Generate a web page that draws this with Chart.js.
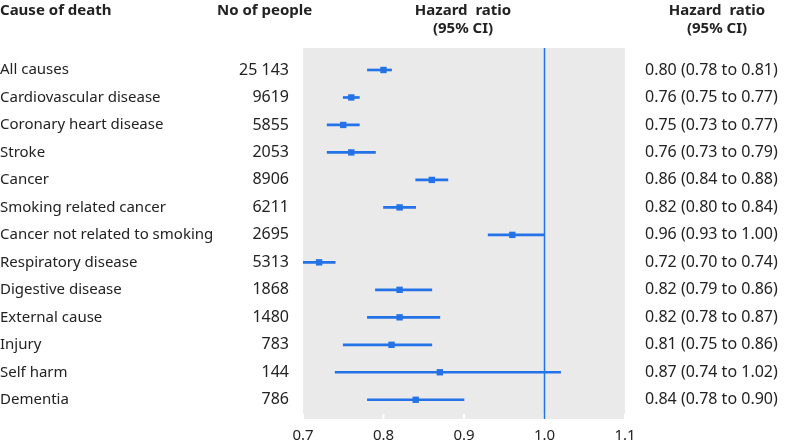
<!DOCTYPE html>
<html>
<head>
<meta charset="utf-8">
<script src="https://cdn.jsdelivr.net/npm/chart.js@4"></script>
<style>
    html, body { margin: 0; padding: 0; background: #fff; overflow: hidden; }
    #wrap { width: 790px; height: 445px; position: relative; }
</style>
</head>
<body>
<div id="wrap"><canvas id="forest"></canvas></div>
<script>
const causes = ['All causes', 'Cardiovascular disease', 'Coronary heart disease', 'Stroke', 'Cancer',
    'Smoking related cancer', 'Cancer not related to smoking', 'Respiratory disease', 'Digestive disease',
    'External cause', 'Injury', 'Self harm', 'Dementia'];
const people = ['25 143', '9619', '5855', '2053', '8906', '6211', '2695', '5313', '1868', '1480', '783', '144', '786'];
const hazard = [0.80, 0.76, 0.75, 0.76, 0.86, 0.82, 0.96, 0.72, 0.82, 0.82, 0.81, 0.87, 0.84];
const lower = [0.78, 0.75, 0.73, 0.73, 0.84, 0.80, 0.93, 0.70, 0.79, 0.78, 0.75, 0.74, 0.78];
const upper = [0.81, 0.77, 0.77, 0.79, 0.88, 0.84, 1.00, 0.74, 0.86, 0.87, 0.86, 1.02, 0.90];
const xTicks = [0.7, 0.8, 0.9, 1.0, 1.1];

const blue = '#2472e8';
const textColor = '#222';
const fontFamily = '"Noto Sans", sans-serif';

const ciData = causes.map((c, i) => ({ x: [lower[i], upper[i]], y: i }));
const pointData = causes.map((c, i) => ({ x: hazard[i], y: i }));

const forestText = {
    id: 'forestText',
    beforeDatasetsDraw(chart) {
        const ctx = chart.ctx;
        const area = chart.chartArea;
        const x = chart.scales.x;
        ctx.save();
        ctx.fillStyle = '#eaeaea';
        ctx.fillRect(area.left, area.top, area.right - area.left, area.bottom - area.top);
        // small white ticks on the bottom edge
        ctx.strokeStyle = '#fff';
        ctx.lineWidth = 2;
        xTicks.forEach(v => {
            const px = x.getPixelForValue(v);
            ctx.beginPath();
            ctx.moveTo(px, area.bottom);
            ctx.lineTo(px, area.bottom - 5);
            ctx.stroke();
        });
        // line of no effect
        const one = x.getPixelForValue(1.0);
        ctx.strokeStyle = blue;
        ctx.lineWidth = 1.5;
        ctx.beginPath();
        ctx.moveTo(one, area.top);
        ctx.lineTo(one, area.bottom);
        ctx.stroke();
        ctx.restore();
    },
    afterDraw(chart) {
        const ctx = chart.ctx;
        const y = chart.scales.y;
        ctx.save();
        ctx.fillStyle = textColor;
        ctx.textBaseline = 'middle';

        ctx.font = 'bold 15px ' + fontFamily;
        ctx.textAlign = 'left';
        ctx.fillText('Cause of death', 0, 11);
        ctx.fillText('No of people', 217, 11);
        ctx.textAlign = 'center';
        ctx.fillText('Hazard  ratio', 463, 11);
        ctx.fillText('(95% CI)', 463, 29);
        ctx.fillText('Hazard  ratio', 717, 11);
        ctx.fillText('(95% CI)', 717, 29);

        causes.forEach((c, i) => {
            const py = y.getPixelForValue(i);
            ctx.font = '15px ' + fontFamily;
            ctx.textAlign = 'left';
            ctx.fillText(c, 0, py);
            // numbers are set a touch wider, like the original
            ctx.font = '16px ' + fontFamily;
            ctx.textAlign = 'right';
            ctx.fillText(people[i], 289, py);
            ctx.textAlign = 'left';
            const txt = hazard[i].toFixed(2) + ' (' + lower[i].toFixed(2) + ' to ' + upper[i].toFixed(2) + ')';
            ctx.fillText(txt, 645, py);
        });
        ctx.restore();
    }
};

new Chart(document.getElementById('forest'), {
    type: 'bar',
    data: {
        datasets: [{
            type: 'bar',
            data: ciData,
            backgroundColor: blue,
            borderWidth: 0,
            barThickness: 2,
            grouped: false
        }, {
            type: 'scatter',
            data: pointData,
            pointStyle: 'rect',
            pointRadius: 4.5,
            backgroundColor: blue,
            borderWidth: 0
        }]
    },
    options: {
        indexAxis: 'y',
        responsive: true,
        maintainAspectRatio: false,
        animation: false,
        layout: { padding: { left: 303, right: 165, top: 48, bottom: 0 } },
        plugins: { legend: { display: false }, tooltip: { enabled: false } },
        scales: {
            x: {
                type: 'linear',
                min: 0.7,
                max: 1.1,
                afterBuildTicks: scale => { scale.ticks = xTicks.map(v => ({ value: v })); },
                afterFit: scale => { scale.height = 26; },
                grid: { display: false },
                border: { display: false },
                ticks: {
                    padding: 0,
                    color: textColor,
                    font: { family: fontFamily, size: 15 },
                    callback: v => v.toFixed(1)
                }
            },
            y: {
                type: 'linear',
                reverse: true,
                offset: false,
                min: -0.8,
                max: 12.7,
                display: false
            }
        }
    },
    plugins: [forestText]
});
</script>
</body>
</html>
